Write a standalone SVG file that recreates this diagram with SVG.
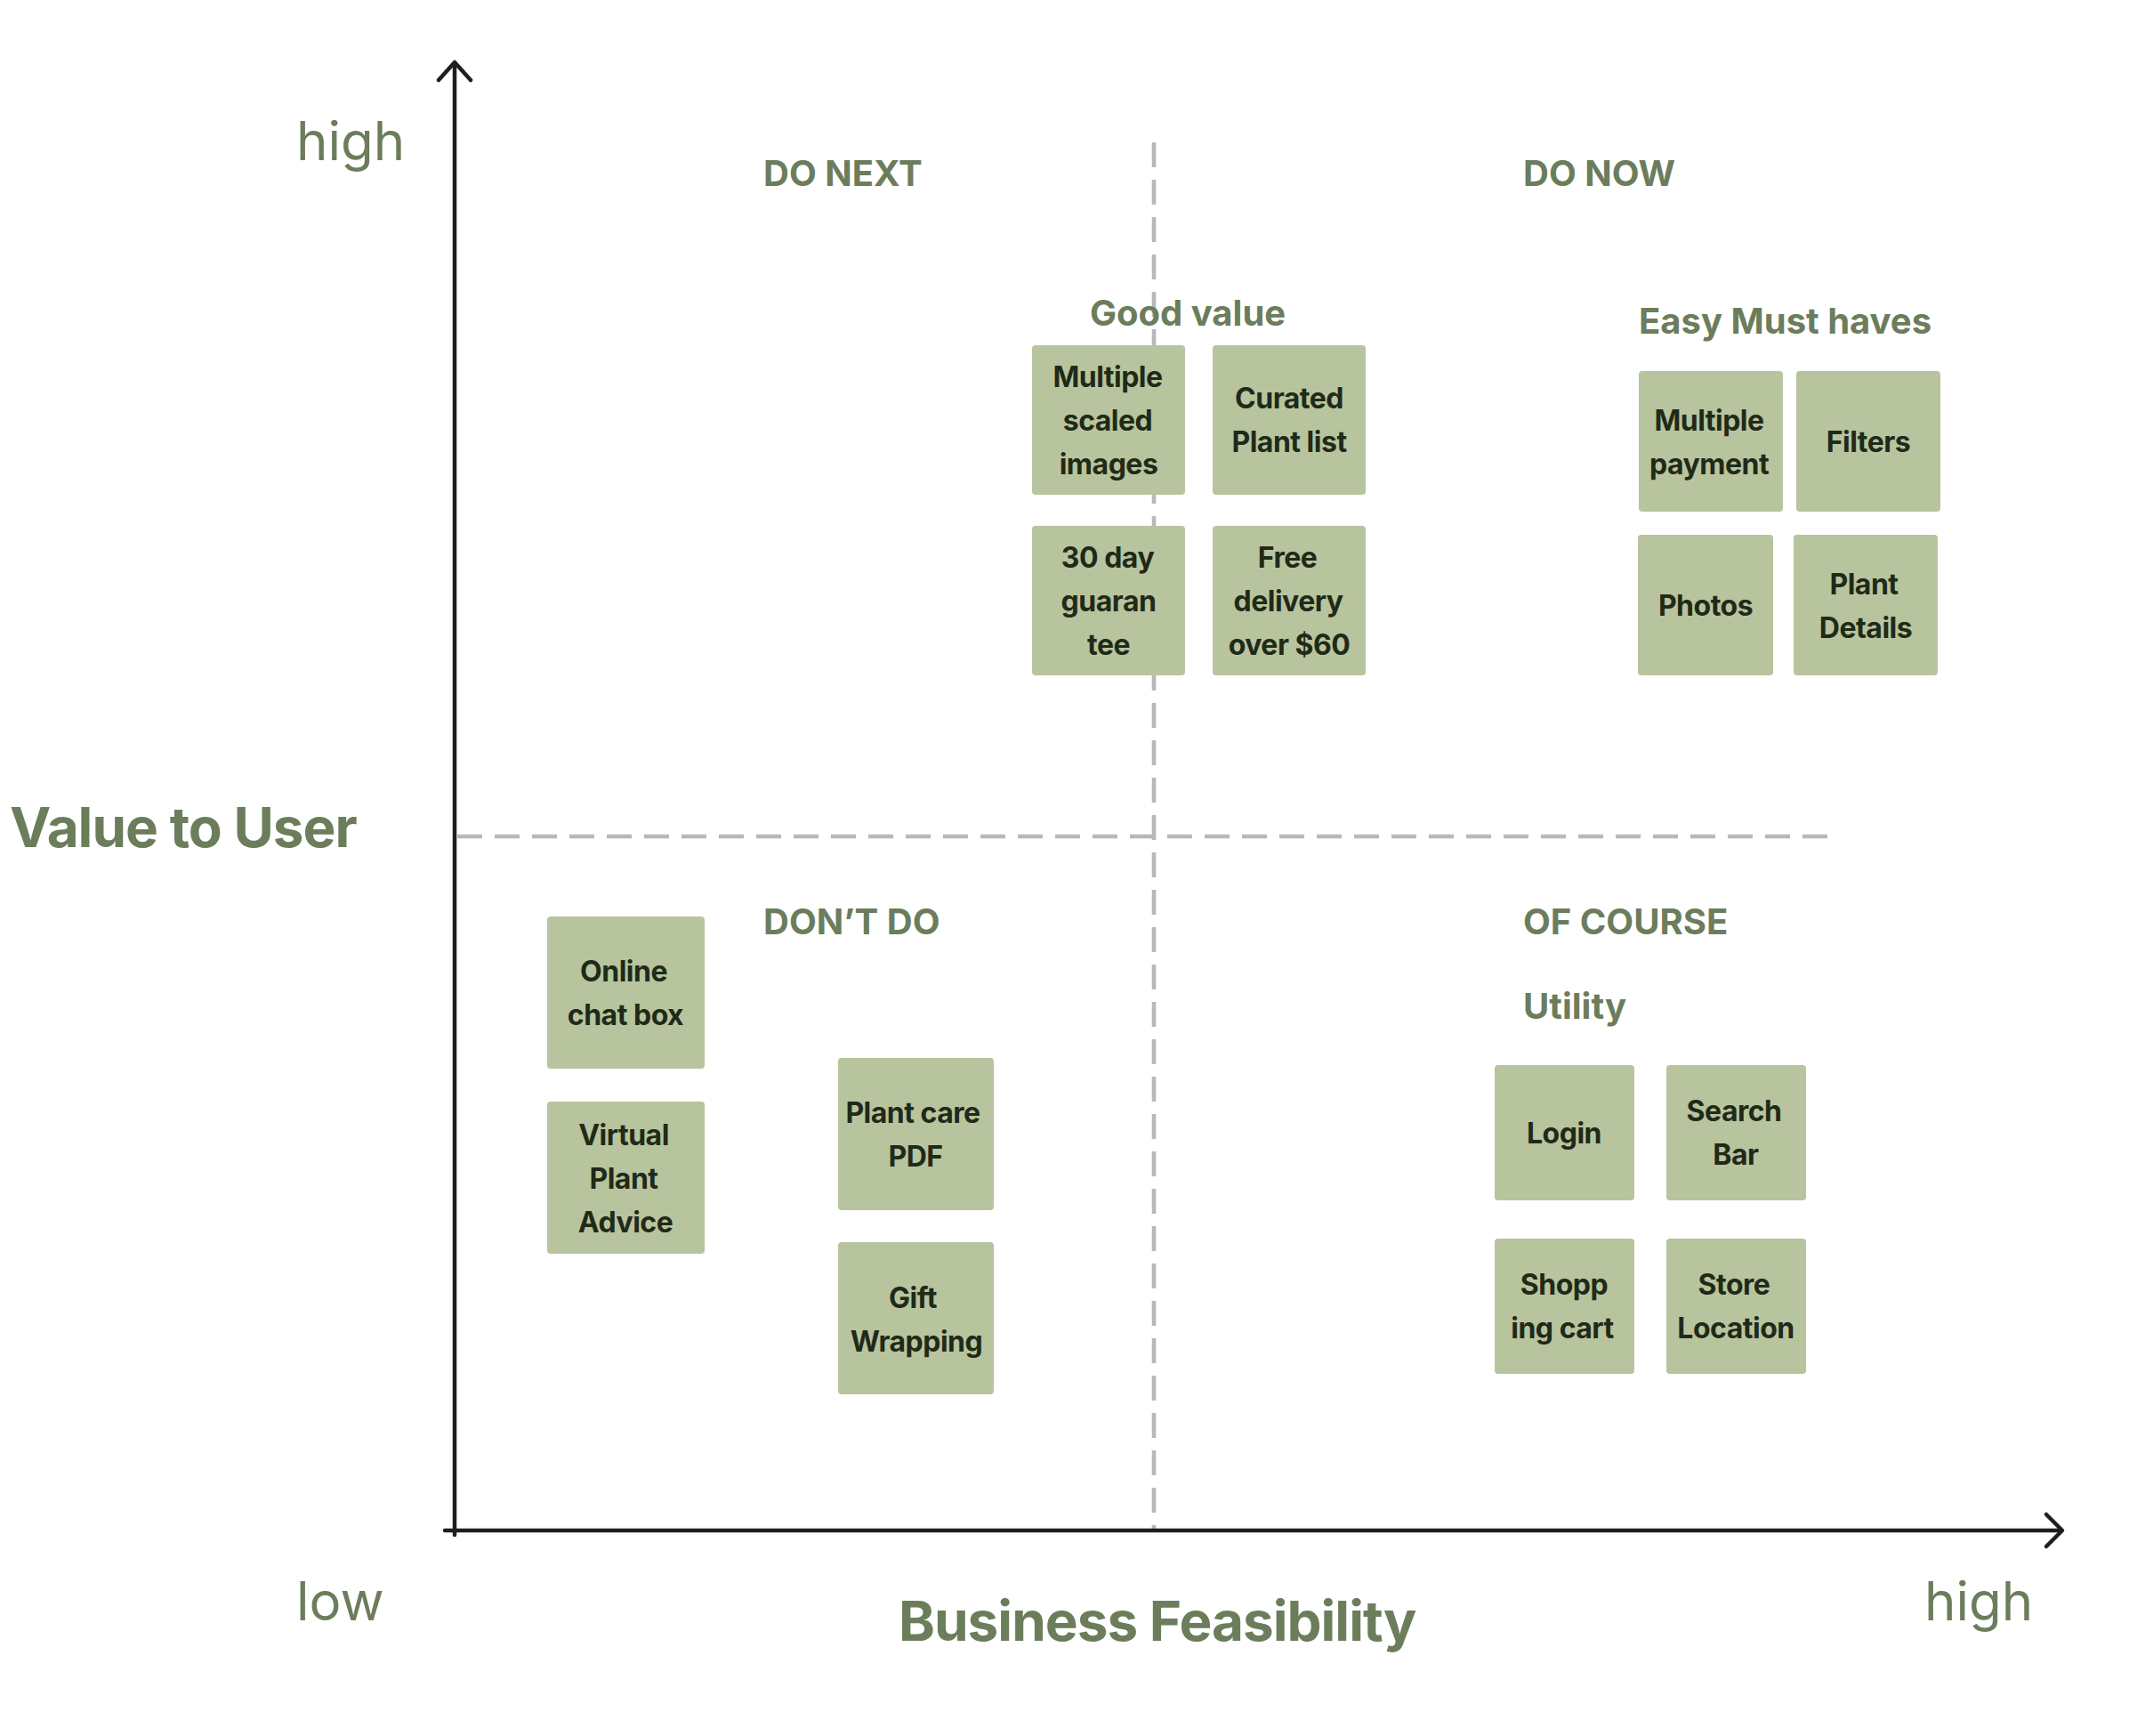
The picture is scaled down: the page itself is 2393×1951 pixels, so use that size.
<svg xmlns="http://www.w3.org/2000/svg" width="2393" height="1951" viewBox="0 0 2393 1951">
<style>
  .axis{stroke:#1e1e1e;stroke-width:4.5;fill:none;stroke-linecap:round;stroke-linejoin:round}
  .dash{stroke:#b8b8b8;stroke-width:4.5;fill:none;stroke-dasharray:28 14}
  .lvl{font-family:Inter,"Liberation Sans",sans-serif;font-size:60px;font-weight:400;fill:#6b7d5b;letter-spacing:0px}
  .axt{font-family:Inter,"Liberation Sans",sans-serif;font-size:62px;font-weight:700;fill:#6b7d5b;letter-spacing:-1px}
  .qt{font-family:Inter,"Liberation Sans",sans-serif;font-size:40px;font-weight:700;fill:#6b7d5b;letter-spacing:0px}
  .note rect{fill:#b8c49d;rx:4;ry:4}
  .note text{font-family:Inter,"Liberation Sans",sans-serif;font-size:32px;font-weight:700;fill:#1f2a18;text-anchor:middle;letter-spacing:-0.5px}
</style>
<rect width="2393" height="1951" fill="#ffffff"/>
<g id="connectors">
  <line class="dash" x1="1297" y1="160" x2="1297" y2="1721"/>
  <line class="dash" x1="514" y1="940" x2="2057" y2="940"/>
  <line class="axis" x1="511" y1="72" x2="511" y2="1725"/>
  <polyline class="axis" points="493,90 511,70 529,90"/>
  <line class="axis" x1="500" y1="1720" x2="2316" y2="1720"/>
  <polyline class="axis" points="2300,1702 2318,1720 2300,1738"/>
</g>
<g id="axis-labels">
  <text class="lvl" x="333" y="180">high</text>
  <text class="lvl" x="333" y="1821">low</text>
  <text class="lvl" x="2163" y="1821">high</text>
  <text class="axt" x="11" y="952">Value to User</text>
  <text class="axt" x="1010" y="1844">Business Feasibility</text>
</g>
<g id="quadrant-titles">
  <text class="qt" x="858" y="209">DO NEXT</text>
  <text class="qt" x="1712" y="209">DO NOW</text>
  <text class="qt" x="858" y="1050">DON’T DO</text>
  <text class="qt" x="1712" y="1050">OF COURSE</text>
  <text class="qt" x="1225" y="366">Good value</text>
  <text class="qt" x="1842" y="375">Easy Must haves</text>
  <text class="qt" x="1712" y="1145">Utility</text>
</g>
<g id="n-multiple-scaled" class="note"><rect x="1160" y="388" width="172" height="168"/><text x="1245" y="435">Multiple</text><text x="1245" y="484">scaled</text><text x="1246" y="533">images</text></g>
<g id="n-curated" class="note"><rect x="1363" y="388" width="172" height="168"/><text x="1449" y="459">Curated</text><text x="1449" y="508">Plant list</text></g>
<g id="n-guarantee" class="note"><rect x="1160" y="591" width="172" height="168"/><text x="1245" y="638">30 day</text><text x="1246" y="687">guaran</text><text x="1246" y="736">tee</text></g>
<g id="n-free-delivery" class="note"><rect x="1363" y="591" width="172" height="168"/><text x="1447" y="638">Free</text><text x="1448" y="687">delivery</text><text x="1449" y="736">over $60</text></g>
<g id="n-multiple-payment" class="note"><rect x="1842" y="417" width="162" height="158"/><text x="1921" y="484">Multiple</text><text x="1921" y="533">payment</text></g>
<g id="n-filters" class="note"><rect x="2019" y="417" width="162" height="158"/><text x="2100" y="508">Filters</text></g>
<g id="n-photos" class="note"><rect x="1841" y="601" width="152" height="158"/><text x="1917" y="692">Photos</text></g>
<g id="n-plant-details" class="note"><rect x="2016" y="601" width="162" height="158"/><text x="2095" y="668">Plant</text><text x="2097" y="717">Details</text></g>
<g id="n-online-chat" class="note"><rect x="615" y="1030" width="177" height="171"/><text x="701" y="1103">Online</text><text x="703" y="1152">chat box</text></g>
<g id="n-virtual-advice" class="note"><rect x="615" y="1238" width="177" height="171"/><text x="701" y="1287">Virtual</text><text x="701" y="1336">Plant</text><text x="703" y="1385">Advice</text></g>
<g id="n-plant-care" class="note"><rect x="942" y="1189" width="175" height="171"/><text x="1026" y="1262">Plant care</text><text x="1029" y="1311">PDF</text></g>
<g id="n-gift" class="note"><rect x="942" y="1396" width="175" height="171"/><text x="1026" y="1470">Gift</text><text x="1030" y="1519">Wrapping</text></g>
<g id="n-login" class="note"><rect x="1680" y="1197" width="157" height="152"/><text x="1758" y="1285">Login</text></g>
<g id="n-search" class="note"><rect x="1873" y="1197" width="157" height="152"/><text x="1949" y="1260">Search</text><text x="1951" y="1309">Bar</text></g>
<g id="n-shopping" class="note"><rect x="1680" y="1392" width="157" height="152"/><text x="1758" y="1455">Shopp</text><text x="1756" y="1504">ing cart</text></g>
<g id="n-store" class="note"><rect x="1873" y="1392" width="157" height="152"/><text x="1949" y="1455">Store</text><text x="1951" y="1504">Location</text></g>
</svg>
